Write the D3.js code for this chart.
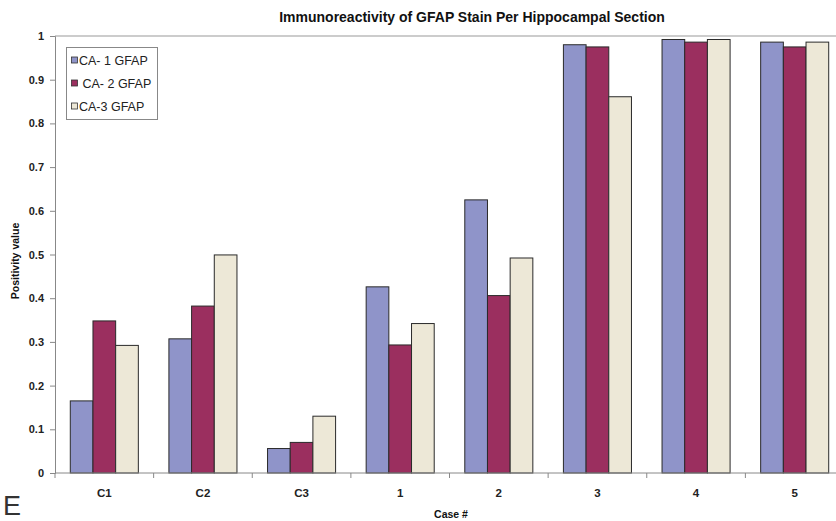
<!DOCTYPE html>
<html>
<head>
<meta charset="utf-8">
<script src="https://cdn.jsdelivr.net/npm/d3@7"></script>
<style>
  body { margin: 0; background: #fff; }
  svg { display: block; font-family: Arial, "Liberation Sans", sans-serif; }
</style>
</head>
<body>
<svg id="chart" width="836" height="521"></svg>
<script>
// data
const cases = ['C1', 'C2', 'C3', '1', '2', '3', '4', '5'];
const seriesNames = ['CA- 1 GFAP', ' CA- 2 GFAP', 'CA-3 GFAP'];
const ca1 = [0.165, 0.307, 0.056, 0.426, 0.625, 0.980, 0.992, 0.986];
const ca2 = [0.348, 0.382, 0.070, 0.293, 0.406, 0.975, 0.986, 0.975];
const ca3 = [0.292, 0.499, 0.130, 0.342, 0.492, 0.861, 0.992, 0.986];
const yTicks = [0, 0.1, 0.2, 0.3, 0.4, 0.5, 0.6, 0.7, 0.8, 0.9, 1];

const colors = ['#8f94c9', '#9b2f5f', '#ede8d7'];
const allSeries = [ca1, ca2, ca3];

const svg = d3.select('#chart');
const plotL = 55, plotR = 844, plotT = 36, plotB = 473;

const x = d3.scaleBand().domain(cases).range([plotL, plotR]).paddingInner(0.31).paddingOuter(0.155);
const xs = d3.scaleBand().domain(d3.range(3)).range([0, x.bandwidth()]);
const y = d3.scaleLinear().domain([0, 1]).range([plotB, plotT]);

// top border of plot
svg.append('line')
  .attr('x1', plotL).attr('x2', plotR).attr('y1', plotT).attr('y2', plotT)
  .attr('stroke', '#999').attr('stroke-width', 1);

// bars
const rows = cases.map((c, i) => ({c, vals: allSeries.map(s => s[i])}));
const g = svg.append('g');
g.selectAll('g.grp').data(rows).enter().append('g')
  .attr('class', 'grp')
  .attr('transform', d => `translate(${x(d.c)},0)`)
  .selectAll('rect').data(d => d.vals).enter().append('rect')
  .attr('x', (d, i) => xs(i))
  .attr('width', xs.bandwidth())
  .attr('y', d => y(d))
  .attr('height', d => plotB - y(d))
  .attr('fill', (d, i) => colors[i])
  .attr('stroke', '#2a2a2a')
  .attr('stroke-width', 1);

// y axis
const yAxis = svg.append('g')
  .attr('transform', `translate(${plotL},0)`)
  .call(d3.axisLeft(y).tickValues(yTicks).tickFormat(d => d === 0 || d === 1 ? d : d3.format('.1f')(d)).tickSize(5).tickPadding(6));
yAxis.select('.domain').attr('stroke', '#888');
yAxis.selectAll('.tick line').attr('stroke', '#888');
yAxis.selectAll('.tick text').attr('font-size', 11).attr('font-weight', 'bold').attr('fill', '#222');

// x axis with ticks at category boundaries
const bounds = d3.range(cases.length + 1).map(i => plotL + i * x.step());
svg.append('line')
  .attr('x1', plotL).attr('x2', plotR).attr('y1', plotB).attr('y2', plotB)
  .attr('stroke', '#888');
svg.selectAll('line.xt').data(bounds).enter().append('line')
  .attr('class', 'xt')
  .attr('x1', d => d).attr('x2', d => d)
  .attr('y1', plotB).attr('y2', plotB + 5)
  .attr('stroke', '#888');
svg.selectAll('text.xl').data(cases).enter().append('text')
  .attr('class', 'xl')
  .attr('x', d => x(d) + x.bandwidth() / 2)
  .attr('y', 497)
  .attr('text-anchor', 'middle')
  .attr('font-size', 11.5).attr('font-weight', 'bold').attr('fill', '#222')
  .text(d => d);

// titles
svg.append('text')
  .attr('x', 472).attr('y', 22)
  .attr('text-anchor', 'middle')
  .attr('font-size', 14).attr('font-weight', 'bold').attr('fill', '#111')
  .text('Immunoreactivity of GFAP Stain Per Hippocampal Section');
svg.append('text')
  .attr('transform', 'translate(19,261) rotate(-90)')
  .attr('text-anchor', 'middle')
  .attr('font-size', 10.5).attr('font-weight', 'bold').attr('fill', '#111')
  .text('Positivity value');
svg.append('text')
  .attr('x', 451).attr('y', 518)
  .attr('text-anchor', 'middle')
  .attr('font-size', 10.5).attr('font-weight', 'bold').attr('fill', '#111')
  .text('Case #');

// panel letter
svg.append('text')
  .attr('x', 3).attr('y', 515)
  .attr('font-size', 27).attr('fill', '#333')
  .text('E');

// legend
const leg = svg.append('g').attr('transform', 'translate(66.5,47.5)');
leg.append('rect')
  .attr('width', 91).attr('height', 72)
  .attr('fill', '#fff').attr('stroke', '#888');
const items = leg.selectAll('g.item').data(seriesNames).enter().append('g')
  .attr('class', 'item')
  .attr('transform', (d, i) => `translate(0,${12.5 + i * 23})`);
items.append('rect')
  .attr('x', 5).attr('y', -3).attr('width', 6).attr('height', 6)
  .attr('fill', (d, i) => colors[i]).attr('stroke', '#333').attr('stroke-width', 0.8);
items.append('text')
  .attr('x', 12.5).attr('y', 4.5)
  .attr('xml:space', 'preserve')
  .style('white-space', 'pre')
  .attr('font-size', 12.5).attr('fill', '#222')
  .text(d => d);
</script>
</body>
</html>
